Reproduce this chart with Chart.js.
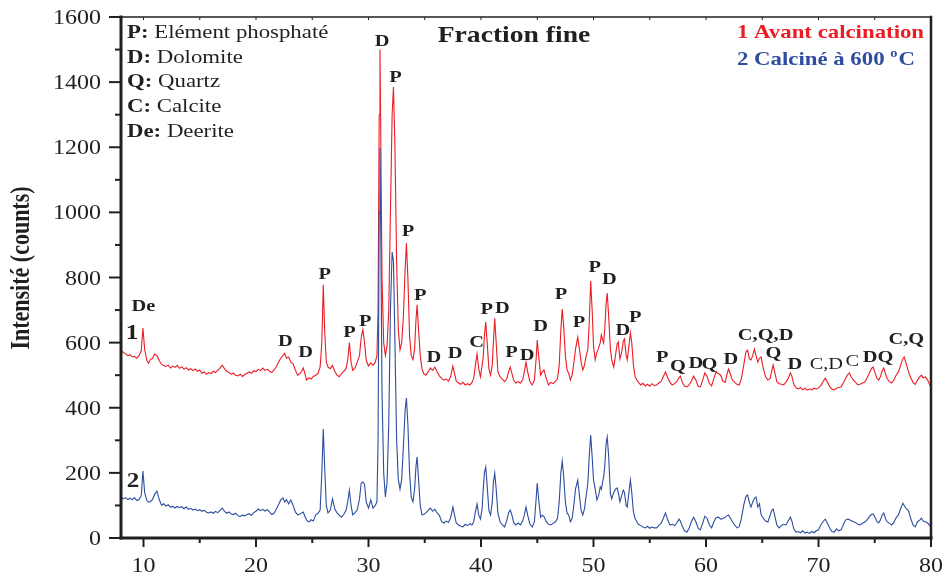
<!DOCTYPE html>
<html>
<head>
<meta charset="utf-8">
<title>Fraction fine</title>
<script src="https://cdn.jsdelivr.net/npm/chart.js@4.4.0/dist/chart.umd.min.js"></script>
<style>
  html, body { margin: 0; padding: 0; background: #fff; }
  #wrap { width: 946px; height: 579px; }
</style>
</head>
<body>
<div id="wrap"><canvas id="xrdChart"></canvas></div>
<script>
// 2-theta (deg), shared by both patterns
const twoTheta = [
    8, 8.2, 8.4, 8.6, 8.8, 9.0, 9.2, 9.4, 9.6, 9.8,
    9.95, 10.1, 10.3, 10.45, 10.6, 10.8, 11.0, 11.2, 11.4, 11.6,
    11.8, 12.0, 12.2, 12.4, 12.6, 12.8, 13.0, 13.2, 13.4, 13.6,
    13.8, 14.0, 14.2, 14.4, 14.6, 14.8, 15.0, 15.2, 15.4, 15.6,
    15.8, 16.0, 16.2, 16.4, 16.6, 16.8, 17.0, 17.2, 17.4, 17.6,
    17.8, 18.0, 18.2, 18.4, 18.6, 18.8, 19.0, 19.2, 19.4, 19.6,
    19.8, 20.0, 20.2, 20.4, 20.6, 20.8, 21.0, 21.2, 21.4, 21.6,
    21.8, 22.0, 22.2, 22.4, 22.55, 22.7, 22.9, 23.1, 23.3, 23.5,
    23.7, 23.9, 24.1, 24.2, 24.35, 24.5, 24.7, 24.9, 25.1, 25.3,
    25.5, 25.7, 25.85, 25.98, 26.1, 26.25, 26.4, 26.6, 26.8, 27.0,
    27.2, 27.4, 27.6, 27.8, 28.0, 28.15, 28.3, 28.45, 28.6, 28.8,
    29.0, 29.2, 29.35, 29.5, 29.65, 29.8, 30.0, 30.2, 30.4, 30.6,
    30.75, 30.85, 30.95, 31.02, 31.1, 31.2, 31.35, 31.5, 31.65, 31.8,
    31.95, 32.1, 32.22, 32.35, 32.5, 32.65, 32.8, 32.95, 33.1, 33.25,
    33.37, 33.5, 33.65, 33.8, 33.95, 34.1, 34.22, 34.32, 34.45, 34.6,
    34.75, 34.9, 35.1, 35.3, 35.5, 35.7, 35.9, 36.1, 36.3, 36.5,
    36.7, 36.9, 37.1, 37.3, 37.5, 37.65, 37.8, 38.0, 38.2, 38.4,
    38.6, 38.8, 39.0, 39.2, 39.35, 39.5, 39.65, 39.8, 39.95, 40.1,
    40.2, 40.3, 40.42, 40.55, 40.7, 40.85, 41.0, 41.1, 41.22, 41.35,
    41.5, 41.7, 41.9, 42.1, 42.3, 42.45, 42.6, 42.75, 42.9, 43.1,
    43.3, 43.5, 43.7, 43.85, 44.0, 44.15, 44.35, 44.55, 44.75, 44.9,
    45.0, 45.12, 45.3, 45.45, 45.6, 45.8, 46.0, 46.2, 46.4, 46.6,
    46.8, 46.95, 47.1, 47.22, 47.35, 47.5, 47.65, 47.8, 47.95, 48.1,
    48.25, 48.4, 48.6, 48.75, 48.9, 49.05, 49.2, 49.35, 49.5, 49.62,
    49.75, 49.88, 50.0, 50.15, 50.3, 50.45, 50.6, 50.7, 50.8, 50.9,
    51.0, 51.12, 51.22, 51.35, 51.5, 51.62, 51.8, 51.95, 52.1, 52.2,
    52.35, 52.5, 52.65, 52.75, 52.9, 53.0, 53.15, 53.28, 53.4, 53.55,
    53.7, 53.85, 54.0, 54.2, 54.4, 54.6, 54.8, 55.0, 55.2, 55.4,
    55.6, 55.8, 56.0, 56.2, 56.4, 56.6, 56.8, 57.0, 57.2, 57.4,
    57.6, 57.72, 57.9, 58.1, 58.3, 58.5, 58.7, 58.9, 59.1, 59.3,
    59.5, 59.7, 59.9, 60.1, 60.3, 60.5, 60.7, 60.9, 61.1, 61.3,
    61.5, 61.7, 61.85, 62.0, 62.15, 62.35, 62.55, 62.75, 62.95, 63.15,
    63.35, 63.55, 63.7, 63.85, 64.0, 64.15, 64.3, 64.45, 64.6, 64.75,
    64.9, 65.1, 65.3, 65.5, 65.7, 65.85, 65.97, 66.1, 66.3, 66.5,
    66.7, 66.9, 67.1, 67.3, 67.5, 67.65, 67.8, 68.0, 68.2, 68.4,
    68.6, 68.8, 69.0, 69.2, 69.4, 69.6, 69.8, 70.0, 70.2, 70.4,
    70.6, 70.8, 71.0, 71.2, 71.4, 71.6, 71.8, 72.0, 72.2, 72.4,
    72.6, 72.75, 72.9, 73.1, 73.3, 73.5, 73.7, 73.9, 74.1, 74.3,
    74.5, 74.7, 74.85, 75.0, 75.2, 75.35, 75.5, 75.65, 75.8, 75.95,
    76.1, 76.3, 76.5, 76.7, 76.9, 77.1, 77.3, 77.5, 77.62, 77.8,
    78.0, 78.2, 78.4, 78.6, 78.8, 79.0, 79.15, 79.3, 79.5, 79.7,
    79.9, 80.0
];

// 1 - avant calcination (counts)
const avantCalcination = [
    577, 570, 566, 560, 563, 556, 558, 552, 560, 575,
    645, 580, 545, 537, 548, 552, 565, 560, 545, 533,
    530, 527, 531, 522, 528, 524, 530, 521, 526, 518,
    523, 516, 520, 514, 519, 512, 516, 506, 510, 503,
    508, 505, 512, 508, 515, 522, 531, 520, 512, 508,
    503, 506, 500, 498, 503, 496, 502, 506, 510, 506,
    514, 511, 518, 514, 522, 515, 518, 512, 508, 516,
    525, 540, 552, 560, 567, 552, 556, 540, 535, 515,
    500, 505, 515, 522, 505, 485, 492, 488, 496, 500,
    505, 525, 600, 778, 640, 540, 525, 520, 530, 512,
    500, 495, 505, 512, 520, 545, 600, 540, 515, 522,
    540, 560, 615, 640, 600, 545, 528, 538, 530, 540,
    560, 700, 1300, 1500, 1200, 800, 600, 560, 590, 700,
    1000, 1300, 1385, 1200, 850, 640, 578, 600, 680, 820,
    905, 800, 620, 560, 548, 580, 670, 716, 640, 560,
    520, 505, 500, 510, 522, 515, 525, 510, 498, 490,
    485, 488, 482, 495, 528, 505, 482, 476, 472, 478,
    470, 474, 470, 478, 490, 530, 565, 520, 495, 530,
    556, 620, 663, 600, 520, 500, 530, 600, 675, 600,
    510, 495, 488, 480, 490, 510, 525, 505, 485, 476,
    480, 476, 485, 510, 540, 510, 480, 470, 485, 550,
    608, 560, 500, 510, 516, 490, 470, 478, 474, 480,
    490, 530, 640, 703, 650, 560, 516, 505, 485, 500,
    537, 580, 617, 580, 540, 516, 530, 560, 580, 660,
    789, 700, 590, 547, 570, 583, 600, 624, 610, 599,
    640, 720, 752, 680, 580, 547, 525, 560, 595, 602,
    550, 570, 605, 611, 560, 547, 590, 630, 600, 530,
    495, 485, 478, 470, 475, 467, 472, 466, 474, 468,
    470, 476, 480, 495, 510, 492, 478, 470, 474, 480,
    492, 497, 478, 466, 464, 470, 482, 497, 485, 466,
    464, 485, 507, 495, 475, 467, 490, 510, 505, 500,
    482, 478, 500, 519, 505, 485, 478, 472, 470, 490,
    530, 572, 577, 550, 547, 560, 580, 560, 540, 552,
    556, 520, 495, 485, 490, 515, 531, 510, 480, 474,
    472, 470, 478, 490, 507, 495, 472, 461, 458, 462,
    455, 460, 454, 458, 455, 460, 457, 461, 468, 480,
    491, 478, 465, 457, 455, 460, 462, 464, 475, 490,
    502, 507, 495, 485, 478, 470, 472, 476, 478, 490,
    505, 520, 525, 510, 490, 485, 495, 512, 522, 505,
    490, 480, 476, 485, 500, 510, 530, 550, 556, 535,
    510, 492, 478, 472, 485, 495, 500, 492, 495, 485,
    470, 461
];

// 2 - calciné à 600 °C (counts)
const calcine600 = [
    126, 120, 124, 118, 122, 117, 124, 115, 118, 130,
    206, 140, 115, 110, 112, 118, 135, 144, 118, 101,
    105, 98, 102, 95, 97, 92, 97, 93, 96, 90,
    95, 88, 91, 86, 89, 84, 87, 82, 85, 79,
    77, 80, 76, 82, 78, 85, 92, 82, 76, 80,
    74, 72, 76, 68, 66, 70, 68, 72, 74, 70,
    78, 82, 89, 84, 88, 83, 87, 80, 72, 76,
    88, 102, 117, 123, 110, 118, 105, 117, 100, 80,
    71, 74, 78, 80, 66, 55, 49, 56, 52, 71,
    75, 86, 200, 335, 220, 100, 77, 85, 120, 90,
    77, 70, 64, 72, 85, 110, 147, 100, 71, 78,
    86, 120, 168, 172, 165, 110, 92, 117, 92, 100,
    111, 300, 1000, 1198, 900, 450, 200, 126, 170, 350,
    700, 878, 850, 600, 300, 180, 150, 180, 280, 390,
    430, 350, 200, 125, 111, 150, 220, 249, 180, 100,
    71, 72, 77, 85, 92, 82, 88, 77, 70, 50,
    46, 52, 48, 62, 95, 70, 46, 40, 36, 34,
    42, 38, 44, 40, 50, 80, 104, 70, 58, 90,
    150, 200, 218, 160, 85, 71, 110, 170, 199, 150,
    77, 50, 40, 34, 55, 78, 86, 70, 48, 40,
    46, 40, 52, 70, 95, 70, 42, 34, 50, 120,
    169, 120, 64, 70, 66, 50, 42, 40, 45, 49,
    60, 110, 200, 236, 190, 110, 77, 70, 50, 60,
    100, 150, 178, 130, 85, 71, 90, 130, 169, 250,
    316, 250, 180, 150, 117, 130, 157, 150, 170, 187,
    220, 290, 310, 250, 138, 120, 140, 150, 154, 140,
    111, 130, 147, 140, 100, 95, 140, 178, 140, 80,
    60, 50, 42, 38, 34, 31, 36, 30, 34, 31,
    31, 38, 45, 60, 77, 55, 40, 42, 38, 46,
    58, 52, 35, 22, 18, 30, 50, 64, 50, 30,
    25, 45, 67, 60, 40, 31, 50, 62, 64, 58,
    60, 64, 68, 71, 62, 50, 40, 31, 35, 60,
    100, 128, 132, 110, 95, 110, 122, 126, 95, 105,
    71, 60, 52, 49, 70, 85, 89, 70, 40, 31,
    38, 42, 40, 52, 64, 50, 28, 18, 20, 16,
    22, 15, 18, 14, 20, 16, 22, 25, 40, 50,
    58, 45, 30, 20, 18, 28, 22, 25, 40, 55,
    58, 56, 54, 50, 48, 42, 40, 45, 48, 55,
    65, 72, 74, 65, 50, 46, 55, 70, 77, 60,
    50, 45, 40, 48, 62, 71, 90, 107, 100, 90,
    84, 60, 40, 34, 50, 55, 61, 52, 50, 46,
    38, 31
];

const xTicks = [10, 20, 30, 40, 50, 60, 70, 80];
const yTicks = [0, 200, 400, 600, 800, 1000, 1200, 1400, 1600];

// phase labels above the peaks (angle, intensity where the label sits)
const peakText  = ['De', 'D', 'D', 'P', 'P', 'P', 'D', 'P', 'P', 'P', 'D', 'D', 'C', 'P', 'D', 'P', 'D', 'D',
                   'P', 'P', 'P', 'D', 'D', 'P', 'P', 'Q', 'D', 'Q', 'D', 'C,Q,D', 'Q', 'D', 'C,D', 'C', 'DQ', 'C,Q'];
const peakAngle = [10.0, 22.6, 24.4, 26.1, 28.3, 29.7, 31.2, 32.4, 33.5, 34.6, 35.8, 37.7, 39.6, 40.5, 41.9, 42.7, 44.1, 45.3,
                   47.1, 48.7, 50.1, 51.4, 52.6, 53.7, 56.1, 57.5, 59.1, 60.3, 62.2, 65.3, 66.0, 67.9, 70.7, 73.0, 75.3, 77.8];
const peakLevel = [712, 602, 568, 808, 630, 666, 1523, 1413, 940, 743, 553, 565, 599, 700, 703, 568, 559, 648,
                   746, 660, 829, 795, 636, 676, 553, 525, 537, 534, 547, 623, 565, 534, 534, 541, 553, 608];

const phaseKey = [
    ['P:', ' Elément phosphaté'],
    ['D:', ' Dolomite'],
    ['Q:', ' Quartz'],
    ['C:', ' Calcite'],
    ['De:', ' Deerite']
];

const RED = '#ec1c24';
const BLUE = '#2d4d9f';
const INK = '#231f20';
const SERIF = "'Liberation Serif', 'Times New Roman', serif";
const STRETCH = 1.2; // the source lettering is set wide

function wideText(ctx, str, x, y, font, color, align, baseline) {
    ctx.save();
    ctx.font = font;
    ctx.fillStyle = color;
    ctx.textBaseline = baseline || 'alphabetic';
    ctx.textAlign = 'left';
    const w = ctx.measureText(str).width * STRETCH;
    let left = x;
    if (align === 'center') left = x - w / 2;
    if (align === 'right') left = x - w;
    ctx.translate(left, y);
    ctx.scale(STRETCH, 1);
    ctx.fillText(str, 0, 0);
    ctx.restore();
    return w;
}

function seg(ctx, x1, y1, x2, y2) {
    ctx.beginPath();
    ctx.moveTo(x1, y1);
    ctx.lineTo(x2, y2);
    ctx.stroke();
}

const decorPlugin = {
    id: 'decor',
    afterDraw(chart) {
        const ctx = chart.ctx;
        const a = chart.chartArea;
        const xs = chart.scales.x;
        const ys = chart.scales.y;

        // frame
        ctx.save();
        ctx.strokeStyle = INK;
        ctx.lineCap = 'square';
        ctx.lineWidth = 1.5;
        seg(ctx, a.left, a.top, a.right, a.top);
        ctx.lineWidth = 2.5;
        seg(ctx, a.right, a.top, a.right, a.bottom);
        ctx.lineWidth = 3;
        seg(ctx, a.left, a.top, a.left, a.bottom);
        seg(ctx, a.left, a.bottom, a.right, a.bottom);

        // y ticks, minor every 100
        ctx.lineCap = 'butt';
        ctx.lineWidth = 2;
        for (let v = 0; v <= 1600; v += 100) {
            const py = ys.getPixelForValue(v);
            seg(ctx, a.left - (v % 200 === 0 ? 12 : 6), py, a.left, py);
        }
        // x ticks, minor every 5, short inner ticks on top
        for (let v = 10; v <= 80; v += 5) {
            const px = xs.getPixelForValue(v);
            ctx.lineWidth = 2;
            seg(ctx, px, a.bottom, px, a.bottom + (v % 10 === 0 ? 9 : 5));
            ctx.lineWidth = 1;
            seg(ctx, px, a.top, px, a.top + 3);
        }
        ctx.restore();

        // tick labels
        const tickFont = '20px ' + SERIF;
        yTicks.forEach(v => wideText(ctx, String(v), a.left - 20, ys.getPixelForValue(v) + 7, tickFont, INK, 'right'));
        xTicks.forEach(v => wideText(ctx, String(v), xs.getPixelForValue(v), a.bottom + 34, tickFont, INK, 'center'));

        // axis title
        ctx.save();
        ctx.translate(29, 268);
        ctx.scale(STRETCH, 1);
        ctx.rotate(-Math.PI / 2);
        ctx.font = 'bold 22px ' + SERIF;
        ctx.fillStyle = INK;
        ctx.textAlign = 'center';
        ctx.textBaseline = 'alphabetic';
        ctx.fillText('Intensité (counts)', 0, 0);
        ctx.restore();

        // phase key
        phaseKey.forEach((row, i) => {
            const y = 38 + i * 24.7;
            const w = wideText(ctx, row[0], a.left + 6, y, 'bold 19px ' + SERIF, INK, 'left');
            wideText(ctx, row[1], a.left + 6 + w, y, '19px ' + SERIF, INK, 'left');
        });

        // title and series legend
        wideText(ctx, 'Fraction fine', 514, 42, 'bold 23px ' + SERIF, INK, 'center');
        wideText(ctx, '1 Avant calcination', 737, 38, 'bold 19px ' + SERIF, RED, 'left');
        let w = wideText(ctx, '2 Calciné à 600 ', 737, 65, 'bold 19px ' + SERIF, BLUE, 'left');
        w += wideText(ctx, 'o', 737 + w, 57, 'bold 12px ' + SERIF, BLUE, 'left');
        wideText(ctx, 'C', 737 + w + 1, 65, 'bold 19px ' + SERIF, BLUE, 'left');

        // peak labels
        peakText.forEach((t, i) => {
            const weight = (t === 'C,D' || (t === 'C' && peakAngle[i] > 70)) ? '' : 'bold ';
            wideText(ctx, t, xs.getPixelForValue(peakAngle[i]), ys.getPixelForValue(peakLevel[i]),
                weight + '17px ' + SERIF, INK, 'center', 'middle');
        });

        // curve numbers
        wideText(ctx, '1', xs.getPixelForValue(8.98), ys.getPixelForValue(627), 'bold 21px ' + SERIF, INK, 'center', 'middle');
        wideText(ctx, '2', xs.getPixelForValue(9.07), ys.getPixelForValue(172), 'bold 21px ' + SERIF, INK, 'center', 'middle');
    }
};

const ctxEl = document.getElementById('xrdChart');
new Chart(ctxEl, {
    type: 'line',
    data: {
        datasets: [
            {
                label: '2 Calciné à 600 °C',
                data: twoTheta.map((t, i) => ({ x: t, y: calcine600[i] })),
                borderColor: BLUE,
                borderWidth: 1.1,
                pointRadius: 0,
                tension: 0
            },
            {
                label: '1 Avant calcination',
                data: twoTheta.map((t, i) => ({ x: t, y: avantCalcination[i] })),
                borderColor: RED,
                borderWidth: 1.1,
                pointRadius: 0,
                tension: 0
            }
        ]
    },
    options: {
        responsive: true,
        maintainAspectRatio: false,
        animation: false,
        devicePixelRatio: 1,
        layout: {
            padding: { top: 17, right: 15, left: 0, bottom: 0 }
        },
        plugins: {
            legend: { display: false },
            tooltip: { enabled: false }
        },
        scales: {
            x: {
                type: 'linear',
                min: 8,
                max: 80,
                grid: { display: false },
                border: { display: false },
                ticks: { display: false },
                afterFit: function (scale) { scale.height = 41; }
            },
            y: {
                min: 0,
                max: 1600,
                grid: { display: false },
                border: { display: false },
                ticks: { display: false },
                afterFit: function (scale) { scale.width = 121; }
            }
        }
    },
    plugins: [decorPlugin]
});
</script>
</body>
</html>
